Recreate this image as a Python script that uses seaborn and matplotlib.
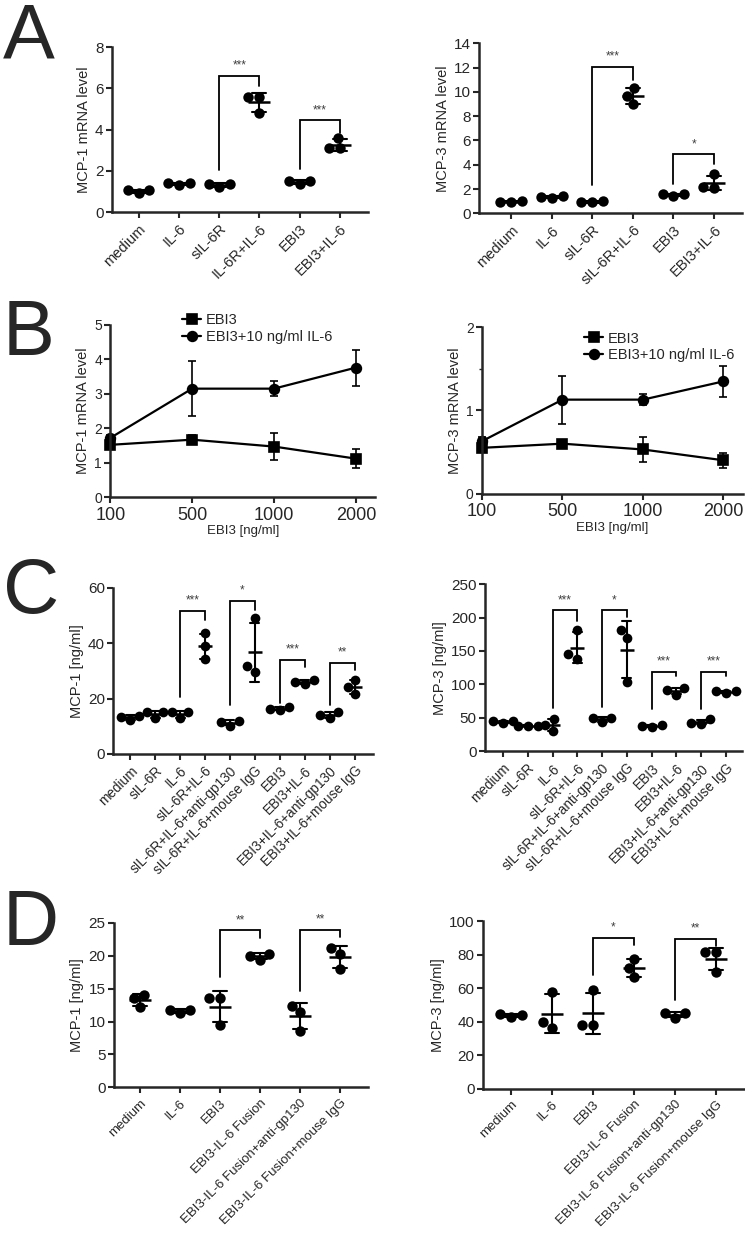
import warnings
import numpy as np
import pandas as pd
import matplotlib.pyplot as plt
import seaborn as sns

warnings.filterwarnings("ignore")

# ---- values ----

# A: mRNA levels (3 replicates per group)
a_groups_1 = ["medium", "IL-6", "sIL-6R", "IL-6R+IL-6", "EBI3", "EBI3+IL-6"]
a_groups_3 = ["medium", "IL-6", "sIL-6R", "sIL-6R+IL-6", "EBI3", "EBI3+IL-6"]
a_mcp1 = [[1.05, 0.9, 1.05], [1.4, 1.3, 1.4], [1.35, 1.2, 1.35],
          [5.6, 4.8, 5.6], [1.5, 1.35, 1.5], [3.6, 3.1, 3.1]]
a_mcp3 = [[1.0, 0.9, 0.95], [1.4, 1.3, 1.35], [1.0, 0.9, 0.9],
          [10.3, 9.0, 9.7], [1.6, 1.45, 1.55], [3.2, 2.1, 2.2]]
# (left group, right group, left foot, top, right foot, stars)
a_mcp1_sig = [(2, 3, 2.05, 6.6, 6.1, "***"), (4, 5, 2.1, 4.45, 3.85, "***")]
a_mcp3_sig = [(2, 3, 2.3, 12.05, 11.0, "***"), (4, 5, 2.45, 4.85, 4.1, "*")]

# B: dose response, mean and error
b_doses = ["100", "500", "1000", "2000"]
b_series = ["EBI3", "EBI3+10 ng/ml IL-6"]
b_mcp1_ebi3 = [1.52, 1.67, 1.47, 1.12]
b_mcp1_ebi3_err = [0.05, 0.13, 0.4, 0.27]
b_mcp1_il6 = [1.72, 3.15, 3.15, 3.76]
b_mcp1_il6_err = [0.08, 0.8, 0.22, 0.52]
b_mcp3_ebi3 = [0.55, 0.6, 0.53, 0.4]
b_mcp3_ebi3_err = [0.03, 0.03, 0.15, 0.09]
b_mcp3_il6 = [0.63, 1.13, 1.13, 1.35]
b_mcp3_il6_err = [0.05, 0.29, 0.07, 0.19]

# C: protein, 10 groups
c_groups = ["medium", "sIL-6R", "IL-6", "sIL-6R+IL-6", "sIL-6R+IL-6+anti-gp130",
            "sIL-6R+IL-6+mouse IgG", "EBI3", "EBI3+IL-6", "EBI3+IL-6+anti-gp130",
            "EBI3+IL-6+mouse IgG"]
c_mcp1 = [[13.8, 12.3, 13.5], [15.0, 12.8, 15.0], [15.0, 12.8, 15.0],
          [43.5, 38.8, 34.3], [12.0, 10.2, 11.6], [49.0, 29.5, 31.8],
          [17.0, 15.8, 16.3], [26.6, 25.3, 26.0], [15.0, 12.9, 14.2],
          [26.8, 21.6, 24.2]]
c_mcp3 = [[45, 43, 45], [38.5, 37.5, 38.5], [48, 30, 40], [182, 138, 145],
          [50, 44, 50], [182, 170, 103], [40, 36.5, 38], [94, 85, 92],
          [48, 41.5, 42.5], [90, 87, 90]]
c_mcp1_sig = [(2, 3, 20.6, 51.6, 48.4, "***"), (4, 5, 17.7, 55.2, 52.0, "*"),
              (6, 7, 18.4, 34.0, 31.4, "***"), (8, 9, 17.5, 33.0, 30.3, "**")]
c_mcp3_sig = [(2, 3, 65, 211, 195, "***"), (4, 5, 66, 211, 201, "*"),
              (6, 7, 64, 119, 112, "***"), (8, 9, 64, 119, 112, "***")]

# D: fusion protein
d_groups = ["medium", "IL-6", "EBI3", "EBI3-IL-6 Fusion",
            "EBI3-IL-6 Fusion+anti-gp130", "EBI3-IL-6 Fusion+mouse IgG"]
d_mcp1 = [[12.2, 14.0, 13.5], [11.8, 11.3, 11.8], [13.6, 9.5, 13.6],
          [20.3, 19.4, 20.0], [12.4, 8.6, 11.4], [21.2, 18.0, 20.3]]
d_mcp3 = [[44.5, 43.0, 44.0], [58, 36.5, 40], [59, 38, 38],
          [77.5, 66.5, 72], [45, 42.5, 45], [81.5, 70, 81.5]]
d_mcp1_sig = [(2, 3, 16.8, 23.8, 22.6, "**"), (4, 5, 14.7, 23.9, 22.8, "**")]
d_mcp3_sig = [(2, 3, 67.9, 90.0, 85.7, "*"), (4, 5, 53.0, 89.7, 85.0, "**")]

# ---- style ----
sns.set_theme(style="ticks")
plt.rcParams["font.family"] = ["Liberation Sans", "DejaVu Sans"]
plt.rcParams["axes.linewidth"] = 1.8
plt.rcParams["xtick.major.width"] = 1.5
plt.rcParams["ytick.major.width"] = 1.5
plt.rcParams["xtick.major.size"] = 4
plt.rcParams["ytick.major.size"] = 4

fig = plt.figure(figsize=(7.45, 12.4), dpi=100)


def dot_panel(rect, groups, values, ylim, yticks, ylabel, sig, xlim,
              mean_size=16, cap=0.35, dot=7.5, label_size=10.5):
    ax = fig.add_axes(rect)
    df = pd.DataFrame({
        "group": np.repeat(groups, [len(v) for v in values]),
        "value": np.concatenate(values),
    })
    sns.swarmplot(data=df, x="group", y="value", order=groups, color="black",
                  size=dot, ax=ax, zorder=3)
    sns.pointplot(data=df, x="group", y="value", order=groups, color="black",
                  errorbar="sd", marker="_", markersize=mean_size,
                  markeredgewidth=1.8, linestyle="none", capsize=cap,
                  err_kws={"linewidth": 1.5}, ax=ax)
    for left, right, y0, top, y1, stars in sig:
        ax.plot([left, left, right, right], [y0, top, top, y1],
                color="black", lw=1.3, solid_joinstyle="miter")
        ax.annotate(stars, ((left + right) / 2, top), xytext=(0, 3),
                    textcoords="offset points", ha="center", va="bottom",
                    fontsize=8.5, color="0.25")
    ax.set_ylim(*ylim)
    ax.set_yticks(yticks)
    ax.set_xlim(*xlim)
    ax.set_xticks(range(len(groups)))
    ax.set_xticklabels(groups, rotation=45, ha="right",
                       rotation_mode="anchor", fontsize=label_size)
    ax.tick_params(axis="y", labelsize=11, pad=2)
    ax.tick_params(axis="x", pad=3)
    ax.set_xlabel("")
    ax.set_ylabel(ylabel, fontsize=10.5, labelpad=3)
    sns.despine(ax=ax)
    return ax


def dose_panel(rect, ebi3, ebi3_err, il6, il6_err, ylim, yticks, ylabel,
               legend_anchor):
    ax = fig.add_axes(rect)
    df = pd.DataFrame({
        "dose": b_doses * 2,
        "value": ebi3 + il6,
        "series": [b_series[0]] * len(b_doses) + [b_series[1]] * len(b_doses),
    })
    sns.pointplot(data=df, x="dose", y="value", hue="series", order=b_doses,
                  hue_order=b_series, palette=["black", "black"],
                  markers=["s", "o"], markersize=7, linewidth=1.6,
                  errorbar=None, ax=ax)
    pos = np.arange(len(b_doses))
    ax.errorbar(pos, ebi3, yerr=ebi3_err, fmt="none", ecolor="black",
                elinewidth=1.2, capsize=3, capthick=1.2)
    ax.errorbar(pos, il6, yerr=il6_err, fmt="none", ecolor="black",
                elinewidth=1.2, capsize=3, capthick=1.2)
    for ln in ax.lines:
        ln.set_clip_on(False)
    for coll in ax.collections:
        coll.set_clip_on(False)
    ax.set_ylim(*ylim)
    ax.set_yticks(yticks)
    ax.set_xlim(0, 3.24)
    ax.tick_params(axis="y", labelsize=10, pad=2)
    ax.tick_params(axis="x", labelsize=13, pad=3)
    for t in ax.get_xticklabels():
        t.set_family(["Liberation Sans Narrow", "Liberation Sans"])
    ax.set_xlabel("EBI3 [ng/ml]", fontsize=9.5, labelpad=1)
    ax.set_ylabel(ylabel, fontsize=10.5, labelpad=3)
    handles, labels = ax.get_legend_handles_labels()
    ax.legend(handles, labels, loc="upper left", bbox_to_anchor=legend_anchor,
              frameon=False, fontsize=10.5, handlelength=1.3, handletextpad=0.3,
              labelspacing=0.2, borderaxespad=0, title=None)
    sns.despine(ax=ax)
    return ax


# A
dot_panel([0.150, 0.829, 0.344, 0.133], a_groups_1, a_mcp1, (0, 8),
          [0, 2, 4, 6, 8], "MCP-1 mRNA level", a_mcp1_sig, (-0.67, 5.7))
dot_panel([0.643, 0.828, 0.353, 0.137], a_groups_3, a_mcp3, (0, 14),
          range(0, 15, 2), "MCP-3 mRNA level", a_mcp3_sig, (-0.79, 5.69))

# B
dose_panel([0.148, 0.599, 0.356, 0.139], b_mcp1_ebi3, b_mcp1_ebi3_err,
           b_mcp1_il6, b_mcp1_il6_err, (0, 5), range(0, 6),
           "MCP-1 mRNA level", (0.25, 1.1))
ax_b3 = dose_panel([0.647, 0.602, 0.350, 0.134], b_mcp3_ebi3, b_mcp3_ebi3_err,
                   b_mcp3_il6, b_mcp3_il6_err, (0, 2), [0, 1, 2],
                   "MCP-3 mRNA level", (0.37, 1.01))
ax_b3.set_yticks([0.5, 1.5], minor=True)
ax_b3.tick_params(axis="y", which="minor", length=2, width=1)

# C
dot_panel([0.152, 0.392, 0.348, 0.134], c_groups, c_mcp1, (0, 60),
          [0, 20, 40, 60], "MCP-1 [ng/ml]", c_mcp1_sig, (-0.68, 9.72),
          mean_size=10, cap=0.36, dot=7, label_size=9.8)
dot_panel([0.651, 0.394, 0.345, 0.135], c_groups, c_mcp3, (0, 250),
          range(0, 251, 50), "MCP-3 [ng/ml]", c_mcp3_sig, (-0.73, 9.65),
          mean_size=10, cap=0.36, dot=7, label_size=9.8)

# D
dot_panel([0.153, 0.123, 0.341, 0.133], d_groups, d_mcp1, (0, 25),
          range(0, 26, 5), "MCP-1 [ng/ml]", d_mcp1_sig, (-0.65, 5.7),
          label_size=9.5)
dot_panel([0.648, 0.122, 0.352, 0.135], d_groups, d_mcp3, (0, 100),
          range(0, 101, 20), "MCP-3 [ng/ml]", d_mcp3_sig, (-0.68, 5.7),
          label_size=9.5)

# panel letters
for letter, ytop in [("A", 2), ("B", 298), ("C", 556), ("D", 888)]:
    fig.text(0.004, 1 - ytop / 1240, letter, fontsize=56, va="top", ha="left")

fig.savefig("out.png", dpi=100)
